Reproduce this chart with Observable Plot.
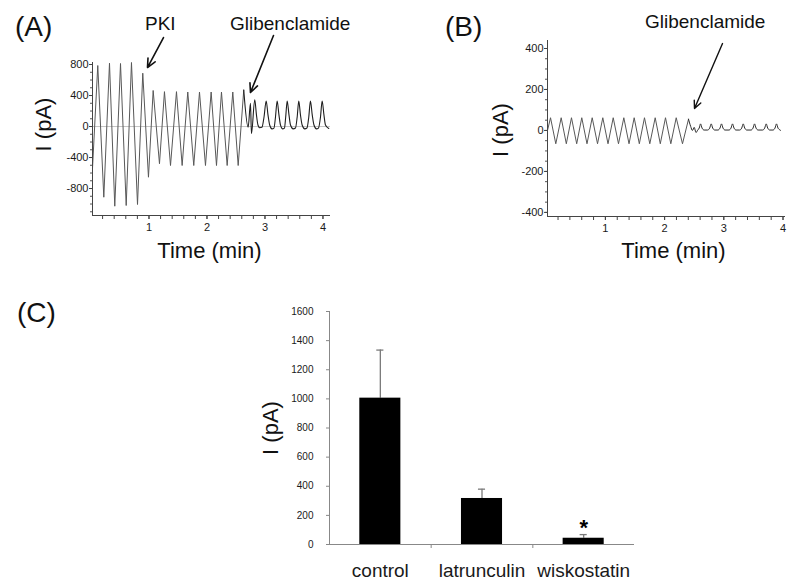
<!DOCTYPE html>
<html><head><meta charset="utf-8">
<script src="https://cdn.jsdelivr.net/npm/d3@7"></script>
<script src="https://cdn.jsdelivr.net/npm/@observablehq/plot@0.6"></script>
<style>
body{margin:0;background:#fff;}
#fig{position:relative;width:800px;height:586px;overflow:hidden;background:#fff;}
</style></head>
<body><div id="fig"></div>
<script>
// ---------- Panel A: PKI then glibenclamide (time in min, current in pA) ----------
const aTimePre = [0.026,0.117,0.221,0.319,0.41,0.509,0.607,0.698,0.802,0.893,0.991,1.072,1.181,1.267,1.371,1.474,1.572,1.669,1.772,1.871,1.974,2.072,2.164,2.25,2.348,2.445,2.538,2.634];
const aCurrentPre = [-540,787,-912,817,-1028,813,-1019,826,-1006,688,-654,465,-480,450,-503,450,-503,445,-503,445,-503,445,-503,445,-503,445,-503,470];
const aTimePost = [2.634,2.71,2.75,2.767,2.824,2.853,2.879,2.91,2.948,2.983,3.021,3.052,3.081,3.121,3.155,3.181,3.21,3.241,3.267,3.302,3.336,3.357,3.383,3.414,3.44,3.486,3.526,3.555,3.583,3.612,3.641,3.686,3.724,3.755,3.784,3.815,3.845,3.888,3.922,3.957,3.986,4.017,4.043,4.1];
const aCurrentPost = [470,-10,300,-90,344,150,20,-15,-10,120,330,150,20,-30,-20,120,330,150,20,-30,-20,120,330,150,20,-30,-20,120,330,150,20,-30,-20,120,330,150,20,-30,-20,120,330,150,20,-25];
const aYTicks = [-800,-400,0,400,800];
const aXTicks = [1,2,3,4];

// ---------- Panel B: glibenclamide only ----------
const bTimePre = [0.022,0.073,0.162,0.253,0.34,0.427,0.515,0.601,0.689,0.777,0.867,0.956,1.044,1.132,1.221,1.311,1.399,1.486,1.573,1.66,1.75,1.841,1.927,2.015,2.105,2.196,2.302,2.404];
const bCurrentPre = [0,62,-65,62,-65,62,-65,62,-65,62,-65,62,-65,62,-65,62,-65,62,-65,62,-65,62,-65,62,-65,62,-65,55];
const bTimePost = [2.404,2.44,2.47,2.5,2.53,2.56,2.585,2.607,2.632,2.667,2.727,2.762,2.787,2.812,2.847,2.901,2.936,2.961,2.986,3.021,3.087,3.122,3.147,3.172,3.207,3.268,3.303,3.328,3.353,3.388,3.459,3.494,3.519,3.544,3.579,3.656,3.691,3.716,3.741,3.776,3.83,3.865,3.89,3.915,3.95,3.96];
const bCurrentPost = [55,20,0,15,-10,2,12,32,12,2,2,12,32,12,2,2,12,32,12,2,2,12,32,12,2,2,12,32,12,2,2,12,32,12,2,2,12,32,12,2,2,12,32,12,2,0];
const bYTicks = [-400,-200,0,200,400];
const bXTicks = [1,2,3,4];

// ---------- Panel C: summary bars ----------
const conditions = ["control","latrunculin","wiskostatin"];
const meanCurrent = [1005,316,43];
const semCurrent = [330,64,25];
const significance = ["","","*"];
const cYTicks = [0,200,400,600,800,1000,1200,1400,1600];

// ---------- build ----------
const FONT = '"Liberation Sans", Arial, Helvetica, sans-serif';
const fig = document.getElementById("fig");
const zip = (ts, vs) => ts.map((t, i) => ({t, v: vs[i]}));
const baseStyle = {fontFamily: FONT, fontSize: "11px", color: "#1a1a1a", background: "transparent", overflow: "visible"};
function place(svg, left, top) {
  svg.style.position = "absolute";
  svg.style.left = left + "px";
  svg.style.top = top + "px";
  svg.style.maxWidth = "none";
  fig.appendChild(svg);
}
const range = (a, b, s) => d3.range(a, b + s / 2, s);

// Panel A
const aArrows = [
  {x1: 1.25, y1: 1148, x2: 0.974, y2: 761},
  {x1: 3.147, y1: 1174, x2: 2.75, y2: 439}
];
const plotA = Plot.plot({
  width: 345, height: 270,
  marginLeft: 92, marginRight: 15, marginTop: 62, marginBottom: 55,
  style: baseStyle,
  x: {domain: [0.026, 4.13]},
  y: {domain: [-1148, 826]},
  marks: [
    Plot.ruleY([0], {stroke: "#c4c4c4", strokeWidth: 1}),
    Plot.line(zip(aTimePre, aCurrentPre), {x: "t", y: "v", stroke: "#585858", strokeWidth: 1}),
    Plot.line(zip(aTimePost, aCurrentPost), {x: "t", y: "v", stroke: "#1e1e1e", strokeWidth: 1.1, curve: "monotone-x"}),
    Plot.axisY({ticks: range(-1100, 800, 100), tickSize: 2, tickFormat: () => "", label: null, stroke: "#555"}),
    Plot.axisY({ticks: aYTicks, tickSize: 3, tickPadding: 1, tickFormat: d => String(d), label: null, fontSize: 11, stroke: "#444"}),
    Plot.axisX({ticks: range(0.2, 4.0, 0.2), tickSize: 4, tickFormat: () => "", label: null, stroke: "#444"}),
    Plot.axisX({ticks: aXTicks, tickSize: 4, tickPadding: 4, tickFormat: d => String(d), label: null, fontSize: 11, stroke: "#444"}),
    Plot.ruleX([0.026], {stroke: "#444"}),
    Plot.ruleY([-1148], {stroke: "#444"}),
    Plot.arrow(aArrows, {x1: "x1", y1: "y1", x2: "x2", y2: "y2", stroke: "#111", strokeWidth: 1.6, headLength: 9, headAngle: 50})
  ]
});
place(plotA, 0, 0);

// Panel B
const bArrows = [{x1: 2.978, y1: 424, x2: 2.505, y2: 107}];
const plotB = Plot.plot({
  width: 410, height: 270,
  marginLeft: 157, marginRight: 15, marginTop: 40, marginBottom: 54,
  style: baseStyle,
  x: {domain: [0.022, 4.042]},
  y: {domain: [-420, 439]},
  marks: [
    Plot.line(zip(bTimePre, bCurrentPre), {x: "t", y: "v", stroke: "#585858", strokeWidth: 1}),
    Plot.line(zip(bTimePost, bCurrentPost), {x: "t", y: "v", stroke: "#2a2a2a", strokeWidth: 1, curve: "monotone-x"}),
    Plot.axisY({ticks: range(-400, 400, 50), tickSize: 2, tickFormat: () => "", label: null, stroke: "#555"}),
    Plot.axisY({ticks: bYTicks, tickSize: 3, tickPadding: 1, tickFormat: d => String(d), label: null, fontSize: 11, stroke: "#444"}),
    Plot.axisX({ticks: range(0.2, 4.0, 0.2), tickSize: 4, tickFormat: () => "", label: null, stroke: "#444"}),
    Plot.axisX({ticks: bXTicks, tickSize: 4, tickPadding: 4, tickFormat: d => String(d), label: null, fontSize: 11, stroke: "#444"}),
    Plot.ruleX([0.022], {stroke: "#444"}),
    Plot.ruleY([-420], {stroke: "#444"}),
    Plot.arrow(bArrows, {x1: "x1", y1: "y1", x2: "x2", y2: "y2", stroke: "#111", strokeWidth: 1.4, headLength: 9, headAngle: 50})
  ]
});
place(plotB, 390, 0);

// Panel C
const cData = conditions.map((c, i) => ({cond: c, idx: i, mean: meanCurrent[i], sem: semCurrent[i], sig: significance[i]}));
const plotC = Plot.plot({
  width: 800, height: 306,
  marginLeft: 329, marginRight: 166, marginTop: 31, marginBottom: 42,
  style: baseStyle,
  x: {domain: [0, conditions.length]},
  y: {domain: [0, 1600]},
  marks: [
    Plot.ruleX(cData, {x: d => d.idx + 0.5, y1: "mean", y2: d => d.mean + d.sem, stroke: "#7a7a7a", strokeWidth: 1.3}),
    Plot.ruleY(cData, {y: d => d.mean + d.sem, x1: d => d.idx + 0.465, x2: d => d.idx + 0.535, stroke: "#7a7a7a", strokeWidth: 1.3}),
    Plot.rectY(cData, {x1: d => d.idx, x2: d => d.idx + 1, y1: 0, y2: "mean", fill: "#000", insetLeft: 30.3, insetRight: 30.3}),
    Plot.text(cData.filter(d => d.sig), {x: d => d.idx + 0.5, y: d => d.mean + d.sem, text: "sig", fontSize: 22, fontWeight: "bold", dy: -7, fill: "#000"}),
    Plot.axisY({ticks: cYTicks, tickSize: 3, tickPadding: 13, tickFormat: d => String(d), label: null, fontSize: 10, stroke: "#888"}),
    Plot.axisX({ticks: d3.range(1, conditions.length), tickSize: 4, tickFormat: () => "", label: null, stroke: "#888"}),
    Plot.axisX({ticks: conditions.map((c, i) => i + 0.5), tickSize: 0, tickPadding: 18.5, tickFormat: d => conditions[Math.floor(d)], label: null, fontSize: 19}),
    Plot.ruleX([0], {stroke: "#888"}),
    Plot.ruleY([0], {stroke: "#888"})
  ]
});
place(plotC, 0, 280);

// ---------- overlay text: panel letters, axis titles, annotations ----------
const ov = d3.select(fig).append("svg")
  .attr("width", 800).attr("height", 586)
  .style("position", "absolute").style("left", "0px").style("top", "0px")
  .style("pointer-events", "none")
  .attr("font-family", FONT).attr("fill", "#111");
const labels = [
  {t: "(A)", x: 15, y: 36, s: 28},
  {t: "(B)", x: 445, y: 36, s: 28},
  {t: "(C)", x: 17, y: 322, s: 28},
  {t: "PKI", x: 145, y: 30, s: 19},
  {t: "Glibenclamide", x: 230, y: 30, s: 19},
  {t: "Glibenclamide", x: 645, y: 28, s: 19},
  {t: "Time (min)", x: 209.5, y: 258, s: 22, mid: true},
  {t: "Time (min)", x: 673.5, y: 258, s: 22, mid: true}
];
labels.forEach(l => {
  ov.append("text").attr("x", l.x).attr("y", l.y).attr("font-size", l.s)
    .attr("text-anchor", l.mid ? "middle" : "start").text(l.t);
});
const vLabels = [
  {t: "I (pA)", x: 51, y: 124.5, s: 22},
  {t: "I (pA)", x: 508, y: 130, s: 22},
  {t: "I (pA)", x: 277.5, y: 428, s: 22}
];
vLabels.forEach(l => {
  ov.append("text").attr("transform", `translate(${l.x},${l.y}) rotate(-90)`)
    .attr("font-size", l.s).attr("text-anchor", "middle").text(l.t);
});
</script>
</body></html>
